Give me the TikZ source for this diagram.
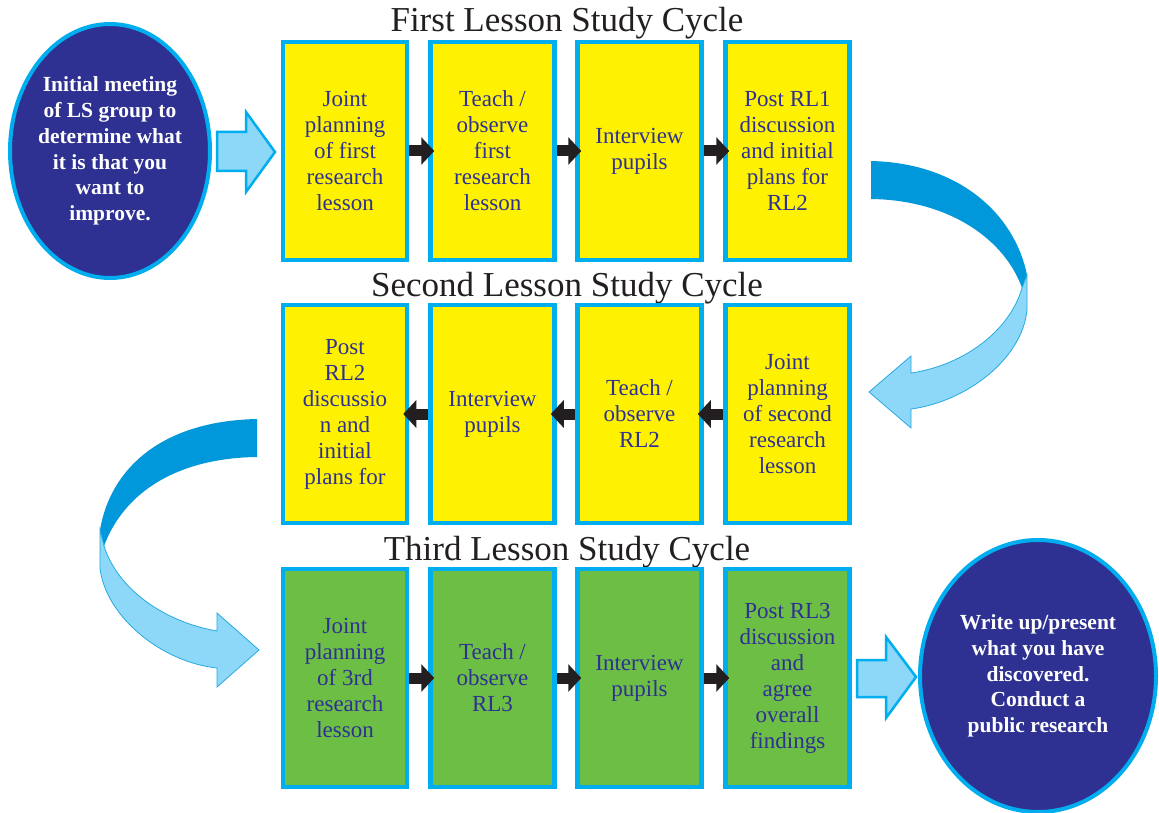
\documentclass[tikz,border=0pt]{standalone}
\usepackage{fontspec}
\setmainfont{Liberation Serif}
\usetikzlibrary{arrows.meta,shapes.geometric}
\definecolor{navy}{HTML}{2E3192}
\definecolor{cyanline}{HTML}{00AEEF}
\definecolor{boxyellow}{HTML}{FFF200}
\definecolor{boxgreen}{HTML}{6DBE45}
\definecolor{lightblue}{HTML}{8DD8F8}
\definecolor{darkblue}{HTML}{0098DA}
\definecolor{thinline}{HTML}{27AAE1}
\definecolor{arrowblack}{HTML}{231F20}
\begin{document}
\begin{tikzpicture}[x=1pt,y=-1pt,
  stepbox/.style={draw=cyanline, line width=4.5pt, minimum width=124pt, minimum height=218pt, inner sep=0pt, align=center, text=navy, font=\fontsize{23}{26}\selectfont},
  ybox/.style={stepbox, fill=boxyellow},
  gbox/.style={stepbox, fill=boxgreen},
  oval/.style={ellipse, draw=cyanline, line width=4pt, fill=navy, inner sep=0pt},
  ovaltext/.style={text=white, align=center, inner sep=0pt, font=\fontsize{21.5}{25.8}\selectfont\bfseries},
  title/.style={anchor=base, inner sep=0pt, font=\fontsize{35}{40}\selectfont, text=arrowblack},
  link/.style={draw=arrowblack, line width=11pt, -{Triangle[length=13pt,width=27pt]}},
  blockarrow/.style={fill=lightblue, draw=cyanline, line width=2.5pt, line join=miter},
  twistdark/.style={fill=darkblue},
  twistlight/.style={fill=lightblue, draw=thinline, line width=0.8pt}
]
\useasboundingbox (0,0) rectangle (1159,813);

% titles
\node[title] (t1) at (567,32) {First Lesson Study Cycle};
\node[title] (t2) at (567,296) {Second Lesson Study Cycle};
\node[title] (t3) at (567,560) {Third Lesson Study Cycle};

% start / end ovals
\node[oval, minimum width=200pt, minimum height=254pt] (start) at (110,151) {};
\node[ovaltext] (starttext) at (start.center) {Initial meeting\\of LS group to\\determine what\\it is that you\\want to\\improve.};
\node[oval, minimum width=236pt, minimum height=272pt] (finish) at (1038,676) {};
\node[ovaltext] (finishtext) at (finish.center) {Write up/present\\what you have\\discovered.\\Conduct a\\public research};

% row 1
\node[ybox] (a1) at (345,151) {Joint\\planning\\of first\\research\\lesson};
\node[ybox] (a2) at (492.5,151) {Teach /\\observe\\first\\research\\lesson};
\node[ybox] (a3) at (639.5,151) {Interview\\pupils};
\node[ybox] (a4) at (787.5,151) {Post RL1\\discussion\\and initial\\plans for\\RL2};

% row 2
\node[ybox] (b1) at (345,414) {Post\\RL2\\discussio\\n and\\initial\\plans for};
\node[ybox] (b2) at (492.5,414) {Interview\\pupils};
\node[ybox] (b3) at (639.5,414) {Teach /\\observe\\RL2};
\node[ybox] (b4) at (787.5,414) {Joint\\planning\\of second\\research\\lesson};

% row 3
\node[gbox] (c1) at (345,678) {Joint\\planning\\of 3rd\\research\\lesson};
\node[gbox] (c2) at (492.5,678) {Teach /\\observe\\RL3};
\node[gbox] (c3) at (639.5,678) {Interview\\pupils};
\node[gbox] (c4) at (787.5,678) {Post RL3\\discussion\\and\\agree\\overall\\findings};

% small connectors
\draw[link] (a1.east) -- ([xshift=6pt]a2.west);
\draw[link] (a2.east) -- ([xshift=6pt]a3.west);
\draw[link] (a3.east) -- ([xshift=6pt]a4.west);
\draw[link] (b4.west) -- ([xshift=-6pt]b3.east);
\draw[link] (b3.west) -- ([xshift=-6pt]b2.east);
\draw[link] (b2.west) -- ([xshift=-6pt]b1.east);
\draw[link] (c1.east) -- ([xshift=6pt]c2.west);
\draw[link] (c2.east) -- ([xshift=6pt]c3.west);
\draw[link] (c3.east) -- ([xshift=6pt]c4.west);

% straight block arrows
\draw[blockarrow] (217,132) -- (246,132) -- (246,112) -- (275,152) -- (246,192) -- (246,171) -- (217,171) -- cycle;
\draw[blockarrow] (857,660) -- (886,660) -- (886,637) -- (916,677) -- (886,718) -- (886,697) -- (857,697) -- cycle;

% right curved arrow (row 1 -> row 2)
\fill[twistdark] (871,161) .. controls (960,163) and (1015,215) .. (1027,275)
  -- (1022,288) .. controls (1005,240) and (950,200) .. (871,199) -- cycle;
\draw[twistlight] (1027,275) -- (1027,310) .. controls (1022,360) and (965,402) .. (911,409)
  -- (911,428) -- (869,392) -- (911,356) -- (911,373)
  .. controls (965,365) and (1010,330) .. (1022,288) -- cycle;

% left curved arrow (row 2 -> row 3)
\fill[twistdark] (257,419) .. controls (160,421) and (110,470) .. (100,530)
  -- (104,546) .. controls (125,490) and (180,458) .. (257,457) -- cycle;
\draw[twistlight] (100,530) -- (100,568) .. controls (105,615) and (160,662) .. (217,668)
  -- (217,687) -- (259,650) -- (217,613) -- (217,631)
  .. controls (165,622) and (118,590) .. (104,546) -- cycle;
\end{tikzpicture}
\end{document}
